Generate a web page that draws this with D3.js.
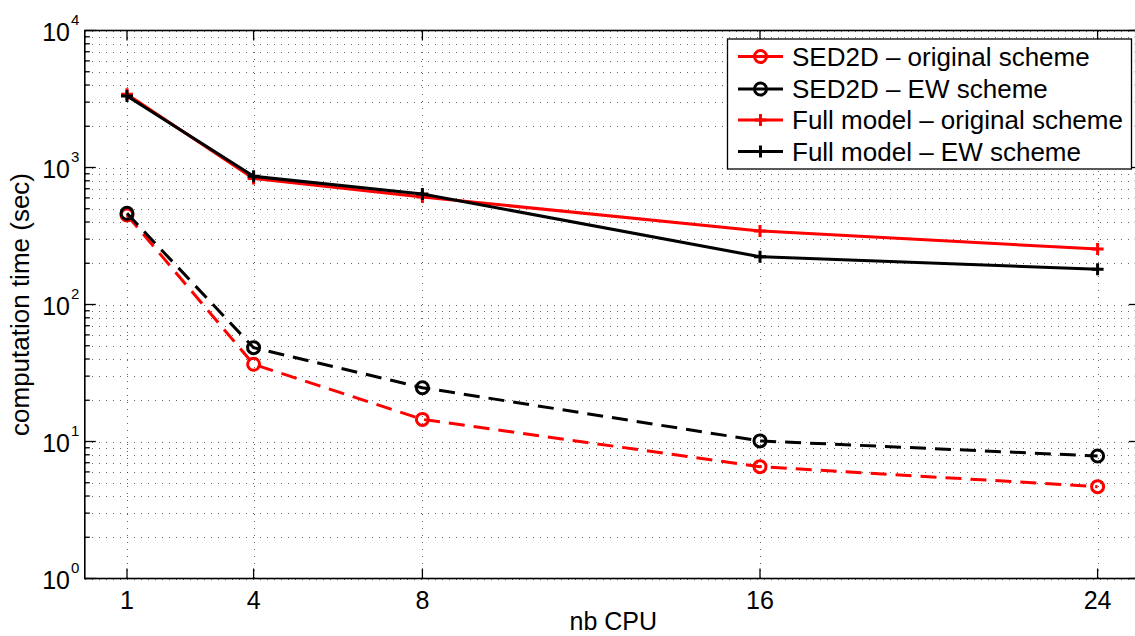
<!DOCTYPE html>
<html><head><meta charset="utf-8">
<script src="https://cdn.jsdelivr.net/npm/d3@7"></script>
<style>
html,body{margin:0;padding:0;background:#fff;}
svg{display:block;font-family:"Liberation Sans",Arial,Helvetica,sans-serif;}
</style></head>
<body>
<svg id="chart" width="1135" height="636"></svg>
<script>
const cpus = [1, 4, 8, 16, 24];
const sedOriginal = [450, 36.6, 14.5, 6.55, 4.68];
const sedEW = [463, 48.4, 24.7, 10.1, 7.84];
const fullOriginal = [3420, 832, 609, 344, 254];
const fullEW = [3325, 862, 641, 223, 181];
const xTickValues = [1, 4, 8, 16, 24];
const yTickValues = [1, 10, 100, 1000, 10000];
const seriesNames = ["SED2D \u2013 original scheme", "SED2D \u2013 EW scheme", "Full model \u2013 original scheme", "Full model \u2013 EW scheme"];

const series = [
  {name: seriesNames[0], values: sedOriginal, color: "#ff0000", dashed: true, marker: "circle"},
  {name: seriesNames[1], values: sedEW, color: "#000000", dashed: true, marker: "circle"},
  {name: seriesNames[2], values: fullOriginal, color: "#ff0000", dashed: false, marker: "plus"},
  {name: seriesNames[3], values: fullEW, color: "#000000", dashed: false, marker: "plus"}
];

const svg = d3.select("#chart");
const L = 84.8, R = 1139.8, T = 30.5, B = 578.5;
const x = d3.scaleLinear().domain([0, 25]).range([L, R]);
const y = d3.scaleLog().domain([1, 10000]).range([B, T]);

// grid
const grid = svg.append("g").attr("stroke", "#333").attr("stroke-width", 1)
  .attr("stroke-dasharray", "1,6").attr("shape-rendering", "crispEdges");
const minorY = [];
for (let e = 0; e < 4; e++) for (let k = 2; k <= 9; k++) minorY.push(k * Math.pow(10, e));
[...yTickValues, ...minorY].forEach(v => {
  grid.append("line").attr("x1", L).attr("x2", R).attr("y1", Math.round(y(v)) + 0.5).attr("y2", Math.round(y(v)) + 0.5)
    .attr("stroke-opacity", 0.75);
});
xTickValues.forEach(v => {
  grid.append("line").attr("x1", Math.round(x(v)) + 0.5).attr("x2", Math.round(x(v)) + 0.5).attr("y1", T).attr("y2", B)
    .attr("stroke-opacity", 0.75);
});

// axes box & ticks
const ax = svg.append("g").attr("stroke", "#000").attr("stroke-width", 1.6).attr("fill", "none");
ax.append("rect").attr("x", L).attr("y", T).attr("width", R - L).attr("height", B - T);
xTickValues.forEach(v => {
  ax.append("line").attr("x1", x(v)).attr("x2", x(v)).attr("y1", B).attr("y2", B - 10).attr("stroke-width", 1.3);
  ax.append("line").attr("x1", x(v)).attr("x2", x(v)).attr("y1", T).attr("y2", T + 10).attr("stroke-width", 1.3);
});
yTickValues.forEach(v => {
  ax.append("line").attr("x1", L).attr("x2", L + 11).attr("y1", y(v)).attr("y2", y(v)).attr("stroke-width", 1.3);
  ax.append("line").attr("x1", R).attr("x2", R - 11).attr("y1", y(v)).attr("y2", y(v)).attr("stroke-width", 1.3);
});
minorY.forEach(v => {
  ax.append("line").attr("x1", L).attr("x2", L + 5).attr("y1", y(v)).attr("y2", y(v)).attr("stroke-width", 1.3);
  ax.append("line").attr("x1", R).attr("x2", R - 5).attr("y1", y(v)).attr("y2", y(v)).attr("stroke-width", 1.3);
});

// tick labels
const tl = svg.append("g").attr("fill", "#000");
xTickValues.forEach(v => {
  tl.append("text").attr("x", x(v)).attr("y", B + 30).attr("text-anchor", "middle")
    .attr("font-size", 25).text(v);
});
yTickValues.forEach(v => {
  const e = Math.round(Math.log10(v));
  tl.append("text").attr("x", 70).attr("y", y(v) + 10).attr("text-anchor", "end").attr("font-size", 25).text("10");
  tl.append("text").attr("x", 71).attr("y", y(v) - 5.5).attr("font-size", 15).text(e);
});

// axis labels
svg.append("text").attr("x", (L + R) / 2 + 1).attr("y", 630).attr("text-anchor", "middle")
  .attr("font-size", 25).text("nb CPU");
svg.append("text").attr("transform", `translate(29,${(T + B) / 2}) rotate(-90)`).attr("text-anchor", "middle")
  .attr("font-size", 26).text("computation time (sec)");

// series
const line = d3.line().x((d, i) => x(cpus[i])).y(d => y(d));
const plot = svg.append("g");
function drawMarker(g, type, cx, cy, color) {
  if (type === "circle") {
    g.append("circle").attr("cx", cx).attr("cy", cy).attr("r", 6).attr("fill", "none")
      .attr("stroke", color).attr("stroke-width", 3);
  } else {
    g.append("path").attr("d", `M${cx - 6},${cy}H${cx + 6}M${cx},${cy - 6}V${cy + 6}`)
      .attr("stroke", color).attr("stroke-width", 3).attr("fill", "none");
  }
}
series.forEach(s => {
  const g = plot.append("g");
  g.append("path").attr("d", line(s.values)).attr("fill", "none").attr("stroke", s.color)
    .attr("stroke-width", 3).attr("stroke-dasharray", s.dashed ? "16,9" : null);
  s.values.forEach((v, i) => drawMarker(g, s.marker, x(cpus[i]), y(v), s.color));
});

// legend
const lg = svg.append("g");
lg.append("rect").attr("x", 727.5).attr("y", 39).attr("width", 404).attr("height", 130)
  .attr("fill", "#fff").attr("stroke", "#000").attr("stroke-width", 1.3);
const ly = [56.5, 89, 120, 151.5];
series.forEach((s, i) => {
  lg.append("line").attr("x1", 738).attr("x2", 783).attr("y1", ly[i]).attr("y2", ly[i])
    .attr("stroke", s.color).attr("stroke-width", 3);
  drawMarker(lg, s.marker, 760.5, ly[i], s.color);
  lg.append("text").attr("x", 792).attr("y", ly[i] + 9).attr("font-size", 26).text(s.name);
});
</script>
</body></html>
